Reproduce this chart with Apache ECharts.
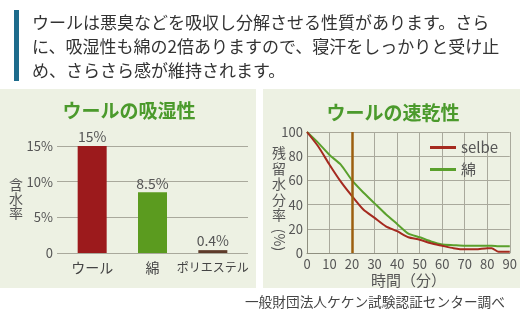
<!DOCTYPE html>
<html><head><meta charset="utf-8">
<script src="https://cdn.jsdelivr.net/npm/echarts@6/dist/echarts.min.js"></script>
<style>html,body{margin:0;padding:0;background:#fff}#c{width:520px;height:323px}</style>
</head><body><div id="c"></div>
<script>
const headerLines = ['ウールは悪臭などを吸収し分解させる性質があります。さら','に、吸湿性も綿の2倍ありますので、寝汗をしっかりと受け止','め、さらさら感が維持されます。'];
const barTitle = 'ウールの吸湿性';
const lineTitle = 'ウールの速乾性';
const barCategories = ['ウール','綿','ポリエステル'];
const barValues = [15, 8.5, 0.4];
const barValueLabels = ['15%','8.5%','0.4%'];
const barColors = ['#9c1a1c','#5b9b1f','#5e3b2a'];
const barTickLabels = {0:'0',5:'5%',10:'10%',15:'15%'};
const barAxisName = '含水率';
const timeMin = [0,5,10,15,20,25,30,35,40,45,50,55,60,65,70,75,80,82,85,90];
const selbeValues = [100,88,73,59,47,36,29,22,18,13,11,8,6,4,3,3,4,4,1,1];
const cottonValues = [100,91,81,73,60,50,41,32,24,16,13,9.5,7,6.5,6,6,6,6,5.5,5.5];
const markTime = 20;
const lineXName = '時間（分）';
const lineYName = '残留水分率';
const lineYUnit = '(%)';
const footer = '一般財団法人ケケン試験認証センター調べ';

const font = '"Noto Sans CJK JP", "Noto Sans", sans-serif';
const txt = '#555';
const gridCol = '#a9a99c';
const chart = echarts.init(document.getElementById('c'), null, {renderer:'canvas'});
const graphics = [
  {type:'rect', shape:{x:0,y:89,width:256,height:199}, style:{fill:'#edf1e3'}, z:-10},
  {type:'rect', shape:{x:263,y:89,width:257,height:199}, style:{fill:'#edf1e3'}, z:-10},
  {type:'rect', shape:{x:14,y:10,width:5,height:71}, style:{fill:'#1d6b8c'}},
  {type:'text', x:129, y:111, style:{text:barTitle, fill:'#4b9a2c', font:'bold 19px '+font, align:'center', verticalAlign:'middle'}},
  {type:'text', x:393, y:113, style:{text:lineTitle, fill:'#4b9a2c', font:'bold 19px '+font, align:'center', verticalAlign:'middle'}},
  {type:'text', x:16, y:199, style:{text:barAxisName.split('').join('\n'), fill:txt, fontSize:14, fontFamily:font, lineHeight:14, align:'center', verticalAlign:'middle'}},
  {type:'text', x:279, y:184, style:{text:lineYName.split('').join('\n'), fill:txt, fontSize:14, fontFamily:font, lineHeight:15.5, align:'center', verticalAlign:'middle'}},
  {type:'text', x:279, y:240, rotation:-Math.PI/2, style:{text:lineYUnit, fill:txt, fontSize:14, fontFamily:font, align:'center', verticalAlign:'middle'}},
  {type:'text', x:505, y:302, style:{text:footer, fill:'#444', fontSize:13.7, fontFamily:font, align:'right', verticalAlign:'middle'}}
];
headerLines.forEach((t,i)=>graphics.push({type:'text', x:32, y:23+24*i, style:{text:t, fill:'#333', fontSize:17, fontFamily:font, verticalAlign:'middle'}}));

const pairs = vals => timeMin.map((t,i)=>[t, vals[i]]);

chart.setOption({
  animation:false,
  textStyle:{fontFamily:font},
  graphic:graphics,
  grid:[
    {left:57, top:146, width:191, height:107},
    {left:62, top:146, width:181, height:107},
    {left:307, top:132, width:206, height:121}
  ],
  xAxis:[
    {gridIndex:0, type:'category', data:barCategories, show:false},
    {gridIndex:1, type:'category', data:barCategories, axisLine:{show:false}, axisTick:{show:false},
     axisLabel:{color:'#444', fontSize:14, margin:8, interval:0, fontFamily:font,
       formatter:v=>v.length>4?'{s|'+v+'}':v, rich:{s:{fontSize:12, color:'#444', fontFamily:font}}}},
    {gridIndex:2, type:'value', min:0, max:90, interval:10,
     axisLine:{lineStyle:{color:'#8f8f80'}}, axisTick:{show:false},
     axisLabel:{color:txt, fontSize:13, margin:5, fontFamily:font},
     splitLine:{show:true, lineStyle:{color:gridCol, width:1}},
     name:lineXName, nameLocation:'middle', nameGap:20, nameTextStyle:{color:txt, fontSize:15, fontFamily:font}}
  ],
  yAxis:[
    {gridIndex:0, type:'value', min:0, max:15, interval:5, axisLine:{show:false}, axisTick:{show:false},
     axisLabel:{color:txt, fontSize:13, margin:4, formatter:v=>barTickLabels[v], fontFamily:font},
     splitLine:{lineStyle:{color:gridCol, width:1.2}}},
    {gridIndex:1, type:'value', min:0, max:15, interval:5, show:false, splitLine:{show:false}},
    {gridIndex:2, type:'value', min:0, max:100, interval:20,
     axisLine:{show:true, lineStyle:{color:'#8f8f80'}}, axisTick:{show:false},
     axisLabel:{color:txt, fontSize:13, margin:4, fontFamily:font},
     splitLine:{lineStyle:{color:gridCol, width:1}}}
  ],
  legend:{left:425, top:135, orient:'vertical', itemWidth:26, itemHeight:3, itemGap:7, icon:'rect',
    data:['selbe','綿'], textStyle:{color:txt, fontSize:15, lineHeight:15, fontFamily:font}},
  series:[
    {type:'bar', name:'含水率', xAxisIndex:1, yAxisIndex:1, barWidth:29,
     data:barValues.map((v,i)=>({value:v, itemStyle:{color:barColors[i]},
       label:{show:true, position:'top', distance:2, formatter:barValueLabels[i], color:txt, fontSize:14, fontFamily:font}}))},
    {type:'line', name:'selbe', xAxisIndex:2, yAxisIndex:2, data:pairs(selbeValues), showSymbol:false, smooth:0.2,
     lineStyle:{color:'#a52a1f', width:2}, itemStyle:{color:'#a52a1f'}, z:3,
     markLine:{silent:true, symbol:'none', label:{show:false}, lineStyle:{color:'#9c5f10', width:2.5, type:'solid'}, data:[{xAxis:markTime}]}},
    {type:'line', name:'綿', xAxisIndex:2, yAxisIndex:2, data:pairs(cottonValues), showSymbol:false, smooth:0.2,
     lineStyle:{color:'#5aa02c', width:2}, itemStyle:{color:'#5aa02c'}, z:2}
  ]
});
</script></body></html>
